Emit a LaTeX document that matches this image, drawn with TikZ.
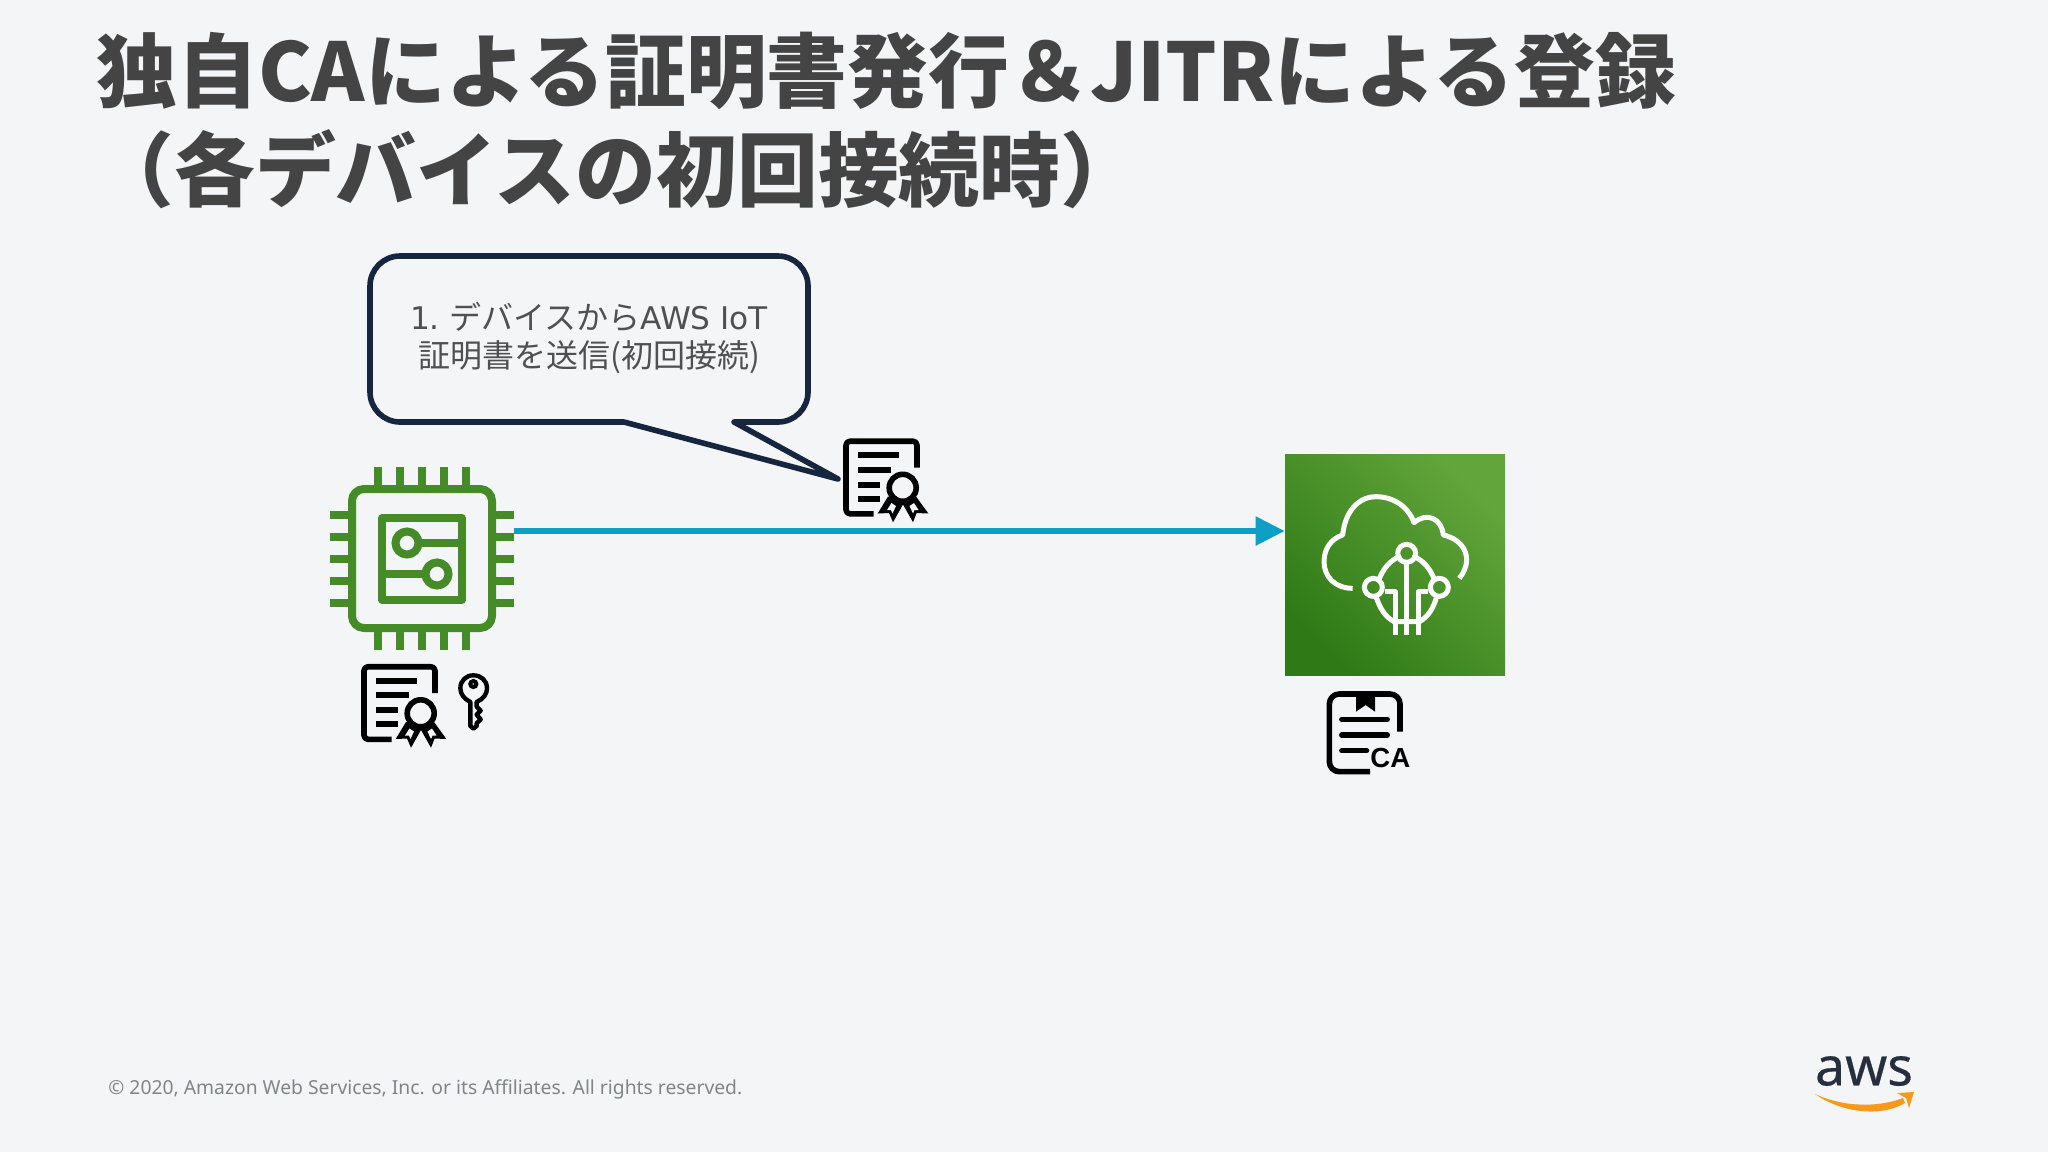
\documentclass[tikz,border=0pt]{standalone}
\usepackage{fontspec}
\setmainfont{Noto Sans}
\newfontfamily\cjk{Noto Sans CJK JP}
\newfontfamily\arialf{Liberation Sans}
\newfontfamily\verdanaish{DejaVu Sans}
\usetikzlibrary{arrows.meta,calc}
\definecolor{bg}{HTML}{F4F5F7}
\definecolor{titlec}{HTML}{444444}
\definecolor{bodyc}{HTML}{505050}
\definecolor{navy}{HTML}{16263F}
\definecolor{chipg}{HTML}{458B28}
\definecolor{arrowc}{HTML}{0E9FC4}
\definecolor{gdark}{HTML}{2F7A16}
\definecolor{glight}{HTML}{62A53B}
\definecolor{footc}{HTML}{80858A}
\definecolor{awsd}{HTML}{252F3E}
\definecolor{awso}{HTML}{F79A1B}
\newcommand{\lat}[1]{{\verdanaish\fontsize{15.6}{19}\selectfont #1}}
\tikzset{
  titletext/.style={anchor=base west,inner sep=0pt,text=titlec,font=\cjk\bfseries\fontsize{40.4}{46}\selectfont},
  calloutline/.style={draw=navy,line width=2.8pt,line join=round,rounded corners=15pt},
  callouttext/.style={align=center,inner sep=0pt,text=bodyc,font=\cjk\fontsize{16}{19}\selectfont},
  chipline/.style={draw=chipg,line width=4pt},
  iconline/.style={draw=black,line width=2.8pt,line join=round},
  whiteline/.style={draw=white,line width=2.5pt,line cap=round,line join=round},
  flow/.style={draw=arrowc,line width=2.8pt,-{Triangle[length=14.5pt,width=14pt]}},
  footer/.style={anchor=base west,inner sep=0pt,text=footc,font=\fontsize{9.65}{12}\selectfont},
  cert/.pic={
    \draw[iconline,rounded corners=2pt] (74,29) -- (74,2.7) -- (3,2.7) -- (3,75.3) -- (30.7,75.3);
    \draw[draw=black,line width=3pt] (15,16.7) -- (56,16.7) (15,31) -- (48,31) (15,46) -- (37,46) (15,60.3) -- (37,60.3);
    \fill[black] (45,58) -- (34.7,75) -- (46,74.5) -- (50,83.7) -- (60,66) -- (70,83.7) -- (73.6,74.5) -- (85.4,75) -- (73,58) -- cycle;
    \fill[bg] (44,71.5) -- (48.5,64.5) -- (53,67.5) -- (49.5,75) -- (48,71.5) -- cycle;
    \fill[bg] (75.5,71.5) -- (71,64.5) -- (66.5,67.5) -- (70,75) -- (71.5,71.5) -- cycle;
    \filldraw[fill=bg,draw=black,line width=2.8pt] (59.7,49.3) circle (13.5);
  }
}
\begin{document}
\begin{tikzpicture}[x=0.5pt,y=-0.5pt]
\useasboundingbox (0,0) rectangle (2048,1152);
\fill[bg] (0,0) rectangle (2048,1152);

% title
\node[titletext] (title1) at (96,101) {独自CAによる証明書発行＆JITRによる登録};
\node[titletext] (title2) at (93,200) {（各デバイスの初回接続時）};

% callout
\draw[calloutline] (624,422) -- (370,422) -- (370,256) -- (808,256) -- (808,422) -- (734,422);
\draw[draw=navy,line width=2.8pt,line join=round,line cap=round] (624,422) -- (838,479) -- (734,422);
\node[callouttext] (calloutlabel) at (589,337.5) {\lat{1.} デバイスから\lat{AWS IoT}\\証明書を送信(初回接続)};

% device chip
\node[draw=chipg,line width=4pt,rounded corners=6pt,minimum width=70pt,minimum height=69.5pt,inner sep=0pt] (chip) at (422,558.5) {};
\foreach \px in {378,400,422,444,466} {
  \draw[chipline] (\px,467) -- (\px,489);
  \draw[chipline] (\px,628) -- (\px,650);
}
\foreach \py in {515,537,559,581,603} {
  \draw[chipline] (330,\py) -- (352,\py);
  \draw[chipline] (492,\py) -- (514,\py);
}
\draw[chipline,line join=round] (382,518) rectangle (462,600);
\draw[chipline] (407,543) circle (11.5);
\draw[chipline] (437,574) circle (11.5);
\draw[chipline] (418,543) -- (462,543);
\draw[chipline] (382,574) -- (426,574);

% device certificate and key
\pic at (361,664) {cert};
\begin{scope}[shift={(300,440)},scale=1/3]
  \draw[draw=black,line width=2.2pt,line join=round]
    (511,786) .. controls (492,776) and (481,762) .. (481,745)
    .. controls (481,722) and (498,706) .. (520,706)
    .. controls (544,706) and (561,722) .. (561,745)
    .. controls (561,762) and (550,777) .. (530,786)
    -- (530,800) -- (542,812) -- (530,824) -- (542,838) -- (530,850) -- (530,858) -- (520,866) -- (511,858) -- cycle;
  \draw[draw=black,line width=2pt] (520,732) circle (9);
\end{scope}

% iot core
\node[inner sep=0pt,minimum width=110pt,minimum height=110.5pt,left color=gdark,right color=glight,shading angle=135] (iot) at (1395,564.5) {};
\begin{scope}[shift={(1270,440)},scale=1/3]
  \draw[whiteline,line cap=butt] (248,445) .. controls (195,445) and (162,410) .. (162,365)
     .. controls (162,325) and (185,295) .. (218,285)
     .. controls (225,215) and (265,170) .. (318,170)
     .. controls (370,170) and (415,200) .. (432,248)
     .. controls (470,215) and (515,235) .. (520,285)
     .. controls (565,295) and (590,325) .. (590,360)
     .. controls (590,380) and (580,400) .. (568,415);
  \draw[whiteline] (410,340) circle (27);
  \draw[whiteline] (310,442) circle (27);
  \draw[whiteline] (508,442) circle (27);
  \draw[whiteline] (387,350) .. controls (360,362) and (340,385) .. (327,418);
  \draw[whiteline] (433,350) .. controls (460,362) and (480,385) .. (493,418);
  \draw[whiteline] (318,470) .. controls (330,505) and (345,530) .. (372,545) -- (448,545)
     .. controls (475,530) and (490,505) .. (500,470);
  \draw[whiteline,line cap=butt] (410,367) -- (410,585);
  \draw[whiteline,line cap=butt] (375,585) -- (375,455) -- (345,455);
  \draw[whiteline,line cap=butt] (446,585) -- (446,455) -- (475,455);
\end{scope}

% CA document
\begin{scope}[shift={(1270,440)},scale=1/3]
  \draw[iconline,rounded corners=5pt] (300,995) -- (178,995) -- (178,762) -- (390,762) -- (390,875);
  \fill[black] (258,765) -- (315,765) -- (315,815) -- (287,795) -- (258,815) -- cycle;
  \draw[draw=black,line width=2.6pt,line cap=round] (215,838) -- (352,838) (215,885) -- (352,885) (215,932) -- (290,932);
  \node[inner sep=0pt,text=black,font=\arialf\bfseries\fontsize{13.8}{15}\selectfont] (calabel) at (361,955) {CA};
\end{scope}

% certificate in flight
\pic at (843,438.5) {cert};

% arrow
\coordinate (flowstart) at (514,531);
\draw[flow] (flowstart) -- (flowstart -| iot.west);

% footer
\node[footer] (copyright) at (108,1094) {© 2020, Amazon Web Services, Inc. or its Affiliates. All rights reserved.};

% aws logo
\node[inner sep=0pt,text=awsd,font=\addfontfeature{FakeBold=0.4}\fontsize{26.8}{28}\selectfont] (awslogo) at (1864,1071) {aws};
\fill[awso] (1815,1094) .. controls (1840,1112) and (1880,1118) .. (1905,1103) -- (1903,1098)
   .. controls (1880,1107) and (1845,1108) .. (1815,1094) -- cycle;
\fill[awso] (1897,1093) -- (1914,1092) -- (1909,1108) -- (1906,1098) -- cycle;
\end{tikzpicture}
\end{document}
